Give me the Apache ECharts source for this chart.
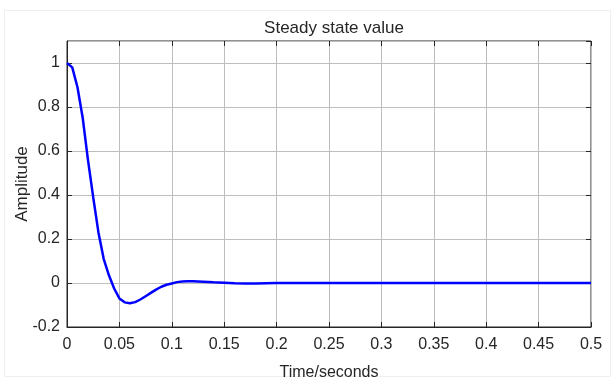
<!doctype html>
<html lang="en">
<head>
    <meta charset="UTF-8">
    <script src="https://cdn.jsdelivr.net/npm/echarts@6/dist/echarts.min.js"></script>
    <title>Steady state value</title>
    <style>
        html, body { margin: 0; padding: 0; background: #fff; }
        #chart { width: 614px; height: 381px; }
    </style>
</head>
<body>
<div id="chart"></div>
<script>
    // time (s) and amplitude
    var timeValues = [0, 0.005, 0.01, 0.015, 0.02, 0.025, 0.03, 0.035, 0.04, 0.045,
        0.05, 0.055, 0.06, 0.065, 0.07, 0.075, 0.08, 0.085, 0.09, 0.095,
        0.1, 0.105, 0.11, 0.115, 0.12, 0.13, 0.14, 0.15, 0.16, 0.17,
        0.18, 0.19, 0.2, 0.25, 0.3, 0.35, 0.4, 0.45, 0.5];
    var amplitude = [1.0, 0.98, 0.89, 0.75, 0.56, 0.39, 0.23, 0.11, 0.035, -0.025,
        -0.07, -0.088, -0.092, -0.087, -0.075, -0.06, -0.045, -0.03, -0.017, -0.008,
        -0.002, 0.004, 0.007, 0.008, 0.008, 0.006, 0.003, 0.001, -0.001, -0.002,
        -0.002, -0.001, 0, 0, 0, 0, 0, 0, 0];
    var xTicks = [0, 0.05, 0.1, 0.15, 0.2, 0.25, 0.3, 0.35, 0.4, 0.45, 0.5];
    var yTicks = [-0.2, 0, 0.2, 0.4, 0.6, 0.8, 1];

    var chart = echarts.init(document.getElementById('chart'));
    var font = 'Liberation Sans, Arial, sans-serif';
    var txt = '#262626';

    var points = [];
    for (var i = 0; i < timeValues.length; i++) {
        points.push([timeValues[i], amplitude[i]]);
    }

    var tickFmt = function (ticks) {
        return function (v) {
            for (var k = 0; k < ticks.length; k++) {
                if (Math.abs(ticks[k] - v) < 1e-9) return String(ticks[k]);
            }
            return '';
        };
    };

    var option = {
        backgroundColor: '#fff',
        animation: false,
        title: {
            text: 'Steady state value',
            left: 329, top: 15, textAlign: 'center',
            textStyle: { color: txt, fontFamily: font, fontSize: 17, fontWeight: 'normal' }
        },
        grid: {
            left: 67, right: 23, top: 41, bottom: 54,
            outerBoundsMode: 'none', containLabel: false,
            show: true, borderColor: '#262626', borderWidth: 1
        },
        xAxis: [{
            type: 'value', min: 0, max: 0.5, interval: 0.05,
            name: 'Time/seconds', nameLocation: 'middle', nameGap: 38, nameMoveOverlap: false,
            nameTextStyle: { color: txt, fontFamily: font, fontSize: 16 },
            axisLine: { show: true, onZero: false, lineStyle: { color: '#262626' } },
            axisTick: { inside: true, length: 5, lineStyle: { color: '#262626' } },
            axisLabel: { color: txt, fontFamily: font, fontSize: 16, margin: 10, formatter: tickFmt(xTicks) },
            splitLine: { lineStyle: { color: '#bdbdbd', width: 1 } }
        }, {
            type: 'value', min: 0, max: 0.5, interval: 0.05, position: 'top',
            axisLine: { show: false, onZero: false },
            axisTick: { inside: true, length: 5, lineStyle: { color: '#262626' } },
            axisLabel: { show: false }, splitLine: { show: false }
        }],
        yAxis: [{
            type: 'value', min: -0.2, max: 1.1, interval: 0.2,
            name: 'Amplitude', nameLocation: 'middle', nameGap: 36, nameMoveOverlap: false,
            nameTextStyle: { color: txt, fontFamily: font, fontSize: 17 },
            axisLine: { show: true, onZero: false, lineStyle: { color: '#262626' } },
            axisTick: { inside: true, length: 5, lineStyle: { color: '#262626' } },
            axisLabel: { color: txt, fontFamily: font, fontSize: 16, margin: 7, showMaxLabel: false, formatter: tickFmt(yTicks) },
            splitLine: { lineStyle: { color: '#bdbdbd', width: 1 } }
        }, {
            type: 'value', min: -0.2, max: 1.1, interval: 0.2, position: 'right',
            axisLine: { show: false, onZero: false },
            axisTick: { inside: true, length: 5, lineStyle: { color: '#262626' } },
            axisLabel: { show: false }, splitLine: { show: false }
        }],
        graphic: [{
            type: 'rect', silent: true,
            shape: { x: 4.5, y: 10.5, width: 606, height: 366 },
            style: { fill: 'none', stroke: '#efefef', lineWidth: 1 }
        }],
        series: [{
            type: 'line',
            data: points,
            showSymbol: false,
            smooth: false,
            lineStyle: { color: '#0000ff', width: 2.5 },
            itemStyle: { color: '#0000ff' }
        }]
    };

    chart.setOption(option);
</script>
</body>
</html>
